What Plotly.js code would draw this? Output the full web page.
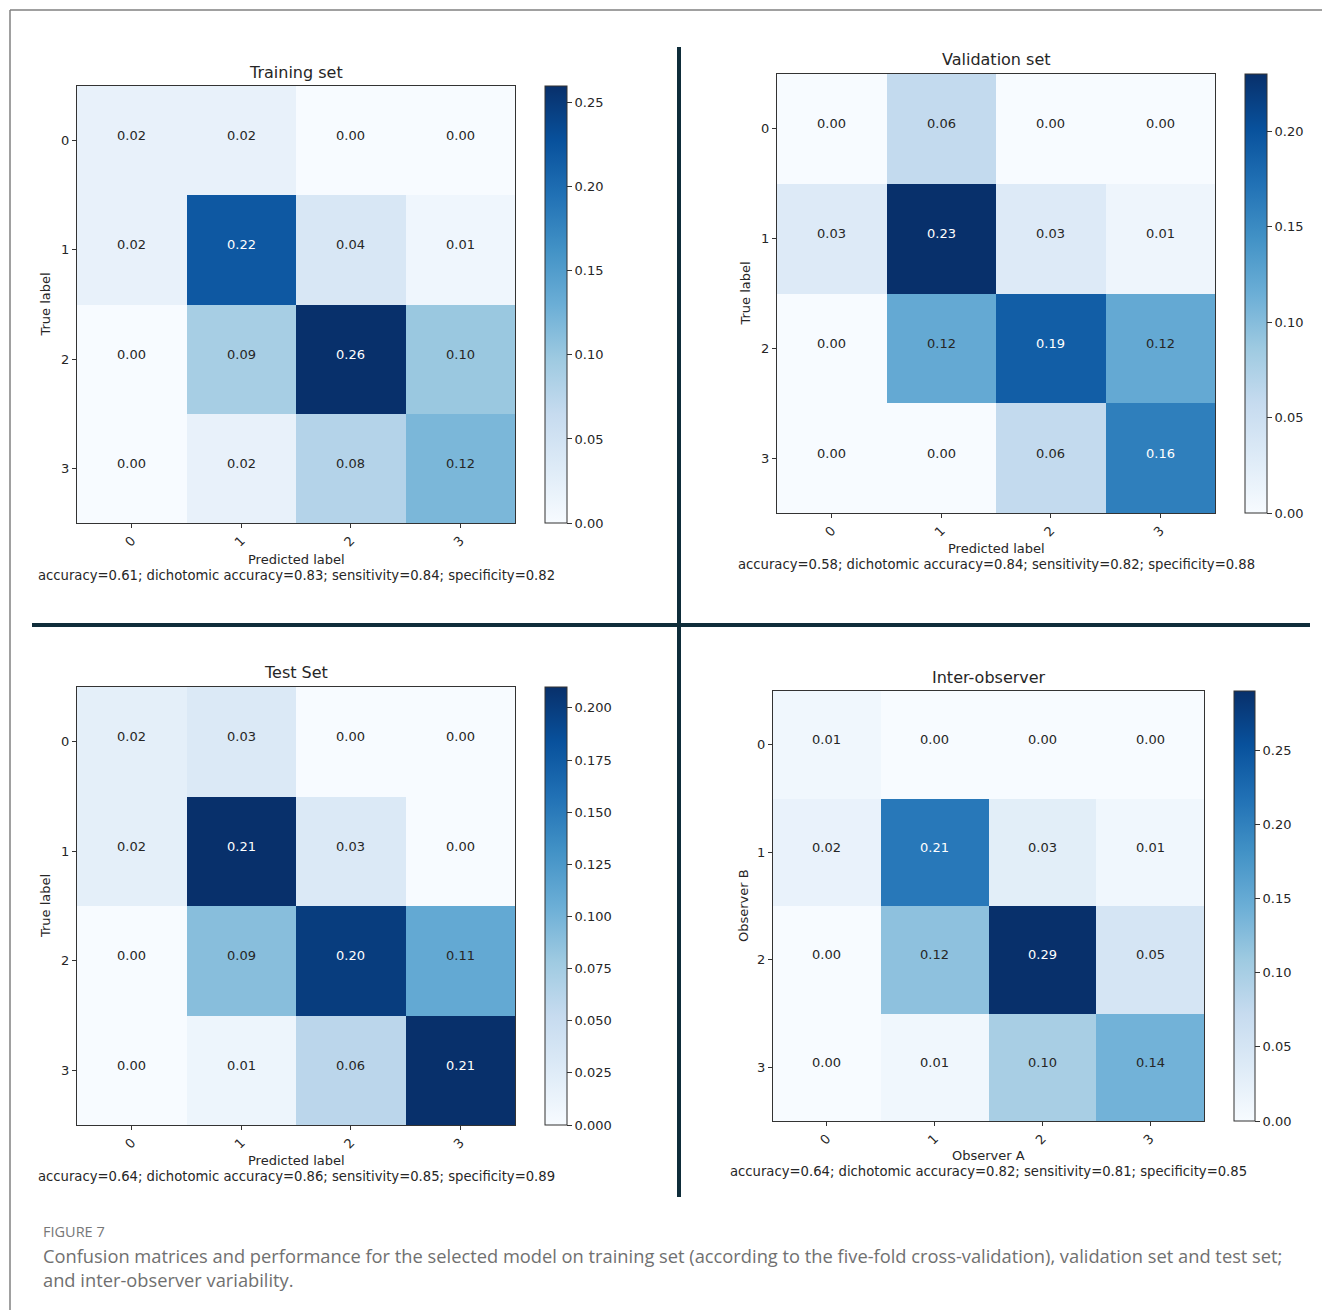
<!DOCTYPE html>
<html>
<head>
<meta charset="utf-8">
<script src="https://cdn.plot.ly/plotly-3.0.1.min.js"></script>
<style>html,body{margin:0;padding:0;background:#fff;}#chart{width:1322px;height:1310px;}</style>
</head>
<body>
<div id="chart"></div>
<script>
// ---- data ----
const classLabels = ["0", "1", "2", "3"];
const trainingMatrix = [
  [0.02, 0.02, 0.00, 0.00],
  [0.02, 0.22, 0.04, 0.01],
  [0.00, 0.09, 0.26, 0.10],
  [0.00, 0.02, 0.08, 0.12]
];
const validationMatrix = [
  [0.00, 0.06, 0.00, 0.00],
  [0.03, 0.23, 0.03, 0.01],
  [0.00, 0.12, 0.19, 0.12],
  [0.00, 0.00, 0.06, 0.16]
];
const testMatrix = [
  [0.02, 0.03, 0.00, 0.00],
  [0.02, 0.21, 0.03, 0.00],
  [0.00, 0.09, 0.20, 0.11],
  [0.00, 0.01, 0.06, 0.21]
];
const interObserverMatrix = [
  [0.01, 0.00, 0.00, 0.00],
  [0.02, 0.21, 0.03, 0.01],
  [0.00, 0.12, 0.29, 0.05],
  [0.00, 0.01, 0.10, 0.14]
];
const panelTitles = ["Training set", "Validation set", "Test Set", "Inter-observer"];
const xTitles = ["Predicted label", "Predicted label", "Predicted label", "Observer A"];
const yTitles = ["True label", "True label", "True label", "Observer B"];
const metricTexts = [
  "accuracy=0.61; dichotomic accuracy=0.83; sensitivity=0.84; specificity=0.82",
  "accuracy=0.58; dichotomic accuracy=0.84; sensitivity=0.82; specificity=0.88",
  "accuracy=0.64; dichotomic accuracy=0.86; sensitivity=0.85; specificity=0.89",
  "accuracy=0.64; dichotomic accuracy=0.82; sensitivity=0.81; specificity=0.85"
];
const colorbarDticks = [0.05, 0.05, 0.025, 0.05];
const colorbarFormats = [".2f", ".2f", ".3f", ".2f"];
const figureLabel = "FIGURE 7";
const captionLine1 = "Confusion matrices and performance for the selected model on training set (according to the five-fold cross-validation), validation set and test set;";
const captionLine2 = "and inter-observer variability.";

// ---- layout geometry (pixels) ----
const W = 1322, H = 1310;
const panels = [
  {x0: 77,  x1: 515,  y0: 86,  y1: 523,  cbx: 545,  cbw: 22, titleY: 72,  yTitleX: 45,  xTitleY: 559,  metricY: 575},
  {x0: 777, x1: 1215, y0: 74,  y1: 513,  cbx: 1245, cbw: 22, titleY: 60,  yTitleX: 745, xTitleY: 548,  metricY: 564},
  {x0: 77,  x1: 515,  y0: 687, y1: 1125, cbx: 545,  cbw: 22, titleY: 673, yTitleX: 45,  xTitleY: 1160, metricY: 1176},
  {x0: 773, x1: 1204, y0: 691, y1: 1121, cbx: 1234, cbw: 21, titleY: 677, yTitleX: 743, xTitleY: 1155, metricY: 1171}
];
const px = v => v / W;
const py = v => 1 - v / H;

const blues = [
  [0.0, "#f7fbff"], [0.125, "#deebf7"], [0.25, "#c6dbef"], [0.375, "#9ecae1"],
  [0.5, "#6baed6"], [0.625, "#4292c6"], [0.75, "#2171b5"], [0.875, "#08519c"], [1.0, "#08306b"]
];

const matrices = [trainingMatrix, validationMatrix, testMatrix, interObserverMatrix];
const FONT = "DejaVu Sans, sans-serif";
const traces = [];
const layout = {
  width: W, height: H,
  margin: {l: 0, r: 0, t: 0, b: 0},
  paper_bgcolor: "#ffffff",
  plot_bgcolor: "#ffffff",
  font: {family: FONT, color: "#262626", size: 13},
  showlegend: false,
  annotations: [],
  shapes: []
};

matrices.forEach((m, i) => {
  const p = panels[i];
  const n = i + 1;
  const xa = "xaxis" + (n === 1 ? "" : n);
  const ya = "yaxis" + (n === 1 ? "" : n);
  const xr = "x" + (n === 1 ? "" : n);
  const yr = "y" + (n === 1 ? "" : n);
  const zmax = Math.max(...m.flat());
  traces.push({
    type: "heatmap",
    z: m,
    x: [0, 1, 2, 3],
    y: [0, 1, 2, 3],
    xaxis: xr, yaxis: yr,
    zmin: 0, zmax: zmax,
    colorscale: blues,
    hoverinfo: "skip",
    colorbar: {
      x: px(p.cbx), xanchor: "left", xpad: 0,
      y: py(p.y0), yanchor: "top", ypad: 0,
      len: p.y1 - p.y0, lenmode: "pixels",
      thickness: p.cbw, thicknessmode: "pixels",
      outlinewidth: 1, outlinecolor: "#333",
      ticks: "outside", ticklen: 5, tickcolor: "#333",
      tick0: 0, dtick: colorbarDticks[i], tickformat: colorbarFormats[i],
      tickfont: {family: FONT, size: 13, color: "#262626"}
    }
  });
  layout[xa] = {
    domain: [px(p.x0), px(p.x1)],
    anchor: yr,
    range: [-0.5, 3.5],
    tickvals: [0, 1, 2, 3], ticktext: classLabels,
    tickangle: -45,
    ticks: "outside", ticklen: 4, tickcolor: "#333",
    showline: true, mirror: true, linecolor: "#333", linewidth: 1,
    showgrid: false, zeroline: false, fixedrange: true,
    tickfont: {family: FONT, size: 13, color: "#262626"}
  };
  layout[ya] = {
    domain: [py(p.y1), py(p.y0)],
    anchor: xr,
    range: [3.5, -0.5],
    tickvals: [0, 1, 2, 3], ticktext: classLabels,
    ticks: "outside", ticklen: 4, tickcolor: "#333",
    showline: true, mirror: true, linecolor: "#333", linewidth: 1,
    showgrid: false, zeroline: false, fixedrange: true,
    tickfont: {family: FONT, size: 13, color: "#262626"}
  };
  // cell values
  m.forEach((row, r) => {
    row.forEach((v, c) => {
      layout.annotations.push({
        xref: xr, yref: yr, x: c, y: r, yshift: 5,
        text: v.toFixed(2), showarrow: false,
        font: {family: FONT, size: 13, color: v > 0.6 * zmax ? "#ffffff" : "#262626"}
      });
    });
  });
  const cx = px((p.x0 + p.x1) / 2);
  layout.annotations.push({xref: "paper", yref: "paper", x: cx, y: py(p.titleY), text: panelTitles[i],
    showarrow: false, xanchor: "center", yanchor: "middle", font: {family: FONT, size: 16, color: "#262626"}});
  layout.annotations.push({xref: "paper", yref: "paper", x: cx, y: py(p.xTitleY), text: xTitles[i],
    showarrow: false, xanchor: "center", yanchor: "middle", font: {family: FONT, size: 13, color: "#262626"}});
  layout.annotations.push({xref: "paper", yref: "paper", x: cx, y: py(p.metricY), text: metricTexts[i],
    showarrow: false, xanchor: "center", yanchor: "middle", font: {family: FONT, size: 13.2, color: "#262626"}});
  layout.annotations.push({xref: "paper", yref: "paper", x: px(p.yTitleX), y: py((p.y0 + p.y1) / 2), text: yTitles[i],
    showarrow: false, textangle: -90, xanchor: "center", yanchor: "middle", font: {family: FONT, size: 13, color: "#262626"}});
});

// frame and dividers
layout.shapes.push({type: "line", xref: "paper", yref: "paper", x0: px(10), x1: 1, y0: py(10), y1: py(10), line: {color: "#808080", width: 1.5}});
layout.shapes.push({type: "line", xref: "paper", yref: "paper", x0: px(10), x1: px(10), y0: py(10), y1: 0, line: {color: "#808080", width: 1.5}});
layout.shapes.push({type: "line", xref: "paper", yref: "paper", x0: px(679), x1: px(679), y0: py(47), y1: py(1197), line: {color: "#0f2d3a", width: 4}});
layout.shapes.push({type: "line", xref: "paper", yref: "paper", x0: px(32), x1: px(1310), y0: py(625), y1: py(625), line: {color: "#0f2d3a", width: 4}});

// caption
const CAP = "Open Sans, sans-serif";
layout.annotations.push({xref: "paper", yref: "paper", x: px(41), y: py(1231), text: figureLabel, showarrow: false,
  xanchor: "left", yanchor: "middle", font: {family: CAP, size: 14.5, color: "#777777"}});
layout.annotations.push({xref: "paper", yref: "paper", x: px(41), y: py(1255), text: captionLine1, showarrow: false,
  xanchor: "left", yanchor: "middle", font: {family: CAP, size: 18.3, color: "#707070"}});
layout.annotations.push({xref: "paper", yref: "paper", x: px(41), y: py(1279), text: captionLine2, showarrow: false,
  xanchor: "left", yanchor: "middle", font: {family: CAP, size: 18.3, color: "#707070"}});

Plotly.newPlot("chart", traces, layout, {staticPlot: true, displayModeBar: false});
</script>
</body>
</html>
